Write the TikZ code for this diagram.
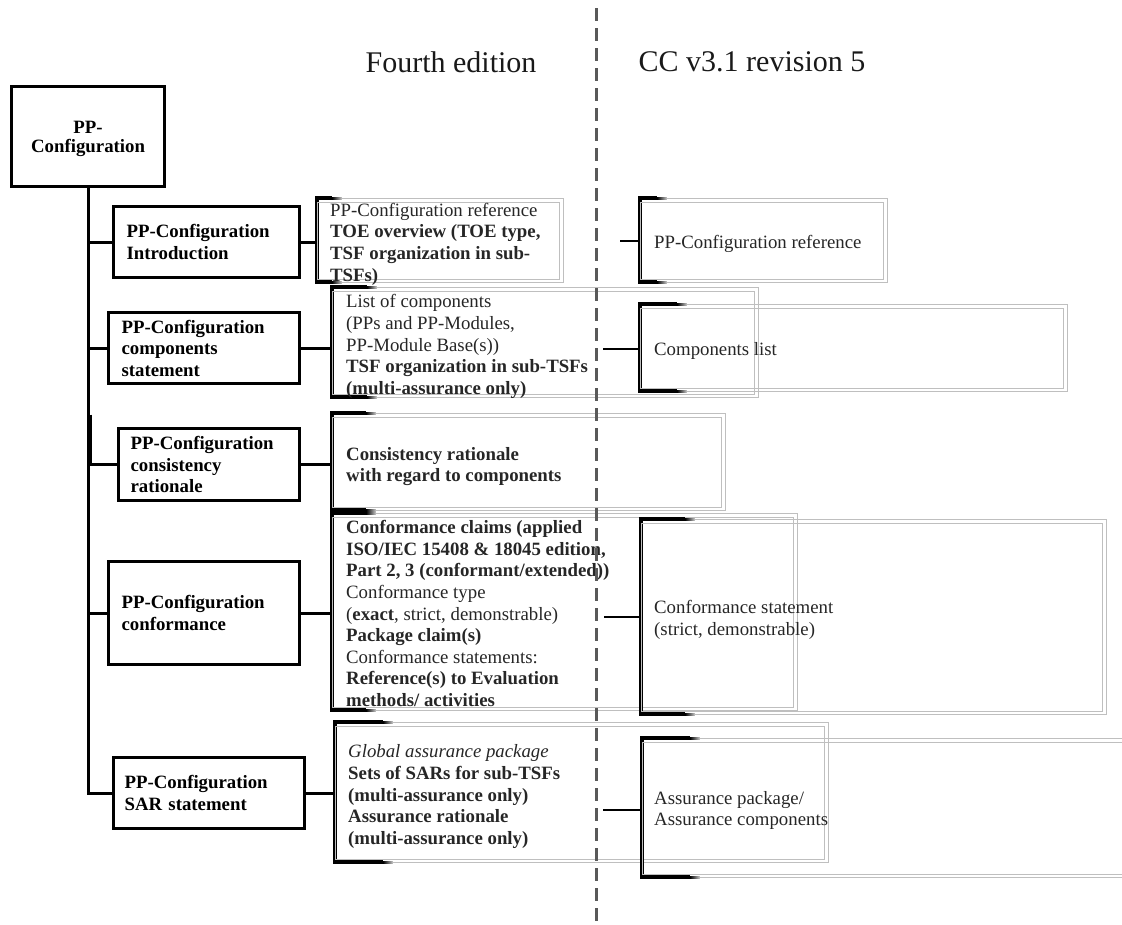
\documentclass[tikz,border=0pt]{standalone}
\usepackage{fontspec}
\setmainfont{Liberation Serif}
\usetikzlibrary{calc}

\newcommand\bodyfont{\fontsize{18.8}{21.6}\selectfont}
\newcommand\rootfont{\fontsize{18.8}{19.5}\selectfont\bfseries}
\newcommand\headfont{\fontsize{30}{34}\selectfont}

% bracket on the left side of a panel, arms fading out to the right
\newcommand\panelbracket[2]{%
  \draw[brk] ([xshift=#2pt-10pt]#1.north west) -- (#1.north west)
             -- (#1.south west) -- ([xshift=#2pt-10pt]#1.south west);
  \foreach \k in {0,...,9}{%
    \pgfmathsetmacro\shadeval{100-8*\k}%
    \draw[line width=3pt, draw=black!\shadeval]
      ([xshift=#2pt-10pt+\k pt]#1.north west) -- ++(1.2,0);
    \draw[line width=3pt, draw=black!\shadeval]
      ([xshift=#2pt-10pt+\k pt]#1.south west) -- ++(1.2,0);
  }
  \draw[panelin] ([yshift=-4pt]#1.north west) rectangle ([xshift=-4pt,yshift=3pt]#1.south east);
}

\tikzset{
  lbox/.style={draw=black, line width=3.2pt, inner xsep=13pt, inner ysep=0pt,
               align=left, font=\bodyfont\bfseries, text=black},
  panel/.style={draw=black!25, line width=1pt, inner sep=0pt, outer sep=0pt},
  panelin/.style={draw=black!25, line width=1pt},
  brk/.style={draw=black, line width=3.2pt, line join=miter},
  txt/.style={inner sep=0pt, align=left, font=\bodyfont, text=black!85, anchor=west},
  conn/.style={draw=black, line width=2.8pt},
  sep/.style={draw=black!65, line width=3pt, dash pattern=on 13pt off 7pt},
  head/.style={font=\headfont, text=black!90, inner sep=0pt}
}

\begin{document}
\begin{tikzpicture}[x=1pt, y=-1pt]
\useasboundingbox (0,0) rectangle (1122,924);

% column headings
\node[head] (h1) at (451,62) {Fourth edition};
\node[head] (h2) at (752,62) {CC v3.1 revision 5};

% left tree
\node[lbox, minimum width=153pt, minimum height=100pt, anchor=north west] (root) at (10,85) {};
\node[inner sep=0pt, align=center, font=\rootfont, text=black] (roott) at ([yshift=-2.5pt]root.center)
  {PP-\\Configuration};
\node[lbox, minimum width=186pt, minimum height=71pt, text width=160pt, anchor=north west]
  (L1) at (112,205) {PP-Configuration\\Introduction};
\node[lbox, minimum width=191pt, minimum height=71pt, text width=165pt, anchor=north west]
  (L2) at (107,311) {PP-Configuration\\components\\statement};
\node[lbox, inner xsep=12pt, minimum width=181pt, minimum height=72pt, text width=157pt, anchor=north west]
  (L3) at (117,427) {PP-Configuration\\consistency\\rationale};
\node[lbox, minimum width=191pt, minimum height=103pt, text width=165pt, anchor=north west]
  (L4) at (107,560) {PP-Configuration\\conformance};
\node[lbox, inner xsep=11pt, minimum width=191pt, minimum height=71pt, text width=169pt, anchor=north west]
  (L5) at (112,756) {PP-Configuration\\SAR statement};

% panels, fourth edition
\node[panel, minimum width=246pt, minimum height=84pt, anchor=north west] (m1) at (317,198) {};
\node[panel, minimum width=426pt, minimum height=110pt, anchor=north west] (m2) at (332,287) {};
\node[panel, minimum width=393pt, minimum height=97pt, anchor=north west] (m3) at (332,413) {};
\node[panel, minimum width=465pt, minimum height=197pt, anchor=north west] (m4) at (332,513) {};
\node[panel, minimum width=493pt, minimum height=140pt, anchor=north west] (m5) at (335,722) {};

% panels, CC v3.1 revision 5
\node[panel, minimum width=247pt, minimum height=84pt, anchor=north west] (r1) at (640,198) {};
\node[panel, minimum width=427pt, minimum height=87pt, anchor=north west] (r2) at (640,304) {};
\node[panel, minimum width=465pt, minimum height=195pt, anchor=north west] (r4) at (641,519) {};
\node[panel, minimum width=500pt, minimum height=139pt, anchor=north west] (r5) at (642,738) {};

\panelbracket{m1}{25}
\panelbracket{m2}{45}
\panelbracket{m3}{44}
\panelbracket{m4}{44}
\panelbracket{m5}{58}
\panelbracket{r1}{27}
\panelbracket{r2}{47}
\panelbracket{r4}{54}
\panelbracket{r5}{58}

% panel texts
\node[txt] (m1t) at ([xshift=13pt,yshift=-4pt]m1.west)
  {PP-Configuration reference\\\textbf{TOE overview (TOE type,}\\\textbf{TSF organization in sub-}\\\textbf{TSFs)}};
\node[txt] (m2t) at ([xshift=14pt,yshift=-4.5pt]m2.west)
  {List of components\\(PPs and PP-Modules,\\PP-Module Base(s))\\\textbf{TSF organization in sub-TSFs}\\\textbf{(multi-assurance only)}};
\node[txt] (m3t) at ([xshift=14pt,yshift=-5pt]m3.west)
  {\textbf{Consistency rationale}\\\textbf{with regard to components}};
\node[txt] (m4t) at ([xshift=14pt,yshift=-2pt]m4.west)
  {\textbf{Conformance claims (applied}\\\textbf{ISO/IEC 15408 \& 18045 edition,}\\\textbf{Part 2, 3 (conformant/extended))}\\Conformance type\\(\textbf{exact}, strict, demonstrable)\\\textbf{Package claim(s)}\\Conformance statements:\\\textbf{Reference(s) to Evaluation}\\\textbf{methods/ activities}};
\node[txt] (m5t) at ([xshift=13pt,yshift=-4.5pt]m5.west)
  {\textit{Global assurance package}\\\textbf{Sets of SARs for sub-TSFs}\\\textbf{(multi-assurance only)}\\\textbf{Assurance rationale}\\\textbf{(multi-assurance only)}};

\node[txt] (r1t) at ([xshift=14pt,yshift=-4pt]r1.west) {PP-Configuration reference};
\node[txt] (r2t) at ([xshift=14pt,yshift=-3pt]r2.west) {Components list};
\node[txt] (r4t) at ([xshift=13pt,yshift=-3.5pt]r4.west) {Conformance statement\\(strict, demonstrable)};
\node[txt] (r5t) at ([xshift=12pt,yshift=-3pt]r5.west) {Assurance package/\\Assurance components};

% tree connectors
\draw[conn] (root.south) |- (L5.west);
\foreach \n in {L1,L2,L4} \draw[conn] (root.south |- \n.west) -- (\n.west);
\draw[conn] ($(root.south |- L3.west)+(2,-50)$) |- (L3.west);

% fourth edition connectors
\foreach \a/\b in {L1/m1,L2/m2,L3/m3,L4/m4,L5/m5}
  \draw[conn] (\a.east) -- (\a.east -| \b.west);

% revision 5 connectors
\coordinate (c1) at (620,241);
\coordinate (c2) at (603,349);
\coordinate (c4) at (604,617);
\coordinate (c5) at (603,810);
\foreach \c/\r in {c1/r1,c2/r2,c4/r4,c5/r5}
  \draw[conn] (\c) -- (\c -| \r.west);

% separator between the two editions
\coordinate (septop) at (596,8);
\coordinate (sepbot) at (596,924);
\draw[sep] (septop) -- (sepbot);
\end{tikzpicture}
\end{document}
